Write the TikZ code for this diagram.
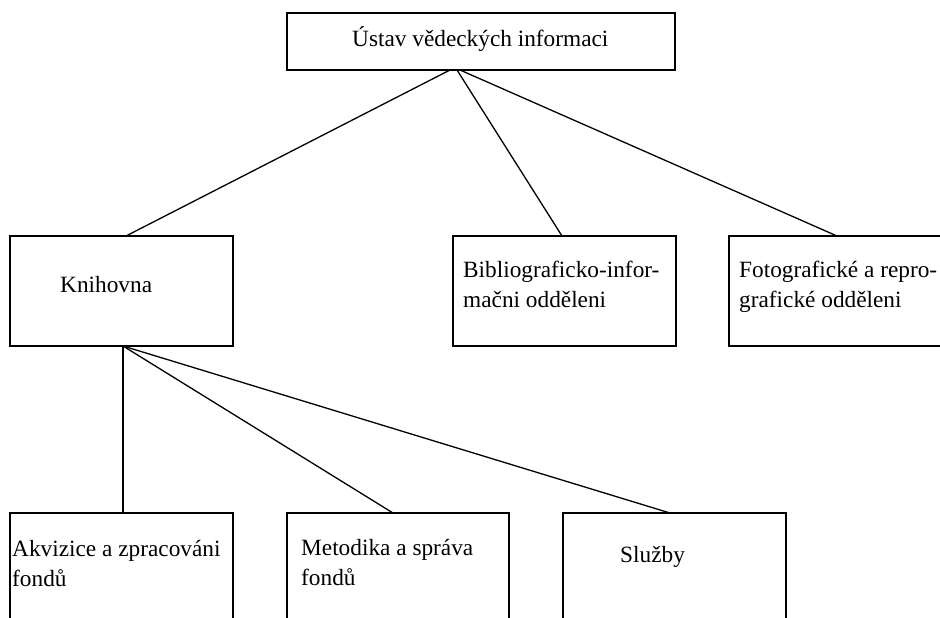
\documentclass[tikz,border=0pt]{standalone}
\usepackage{fontspec}
\setmainfont{Liberation Serif}
\begin{document}
\begin{tikzpicture}[x=1pt,y=-1pt,
  orgbox/.style={draw=black,line width=1.8pt,fill=none,inner sep=0pt,outer sep=0pt,minimum width=223pt,minimum height=110pt},
  conn/.style={draw=black,line width=1.3pt},
  lbl/.style={anchor=base west,inner sep=0pt,font=\fontsize{23.3}{30}\selectfont}]
\clip (0,0) rectangle (940,618);
\fill[white] (0,0) rectangle (940,618);
% boxes
\node[orgbox,minimum width=388pt,minimum height=57pt] (top) at (481,41.5) {};
\node[orgbox] (kni) at (121.5,291) {};
\node[orgbox] (bib) at (564.5,291) {};
\node[orgbox] (foto) at (840.5,291) {};
\node[orgbox] (akv) at (121.5,568) {};
\node[orgbox,minimum width=222pt] (met) at (398,568) {};
\node[orgbox] (slu) at (674.5,568) {};
% connectors
\draw[conn] ([xshift=-31pt]top.south) -- ([xshift=4.5pt]kni.north);
\draw[conn] ([xshift=-24pt]top.south) -- ([xshift=-2.5pt]bib.north);
\draw[conn] ([xshift=-21pt]top.south) -- ([xshift=-3.5pt]foto.north);
\draw[conn] ([xshift=1.5pt]kni.south) -- ([xshift=1.5pt]akv.north);
\draw[conn] ([xshift=1.5pt]kni.south) -- ([xshift=-5pt]met.north);
\draw[conn] ([xshift=1.5pt]kni.south) -- ([xshift=-4.5pt]slu.north);
% texts
\node[lbl] (ttop) at (352,47) {Ústav vědeckých informaci};
\node[lbl] (tkni) at (60,292) {Knihovna};
\node[lbl] (tbib1) at (463,277) {Bibliograficko-infor-};
\node[lbl] (tbib2) at (463,307) {mačni odděleni};
\node[lbl] (tfot1) at (739,277) {Fotografické a repro-};
\node[lbl] (tfot2) at (739,307) {grafické odděleni};
\node[lbl] (takv1) at (12,556) {Akvizice a zpracováni};
\node[lbl] (takv2) at (12,586) {fondů};
\node[lbl] (tmet1) at (301,555) {Metodika a správa};
\node[lbl] (tmet2) at (301,585) {fondů};
\node[lbl] (tslu) at (620,562) {Služby};
\end{tikzpicture}
\end{document}
